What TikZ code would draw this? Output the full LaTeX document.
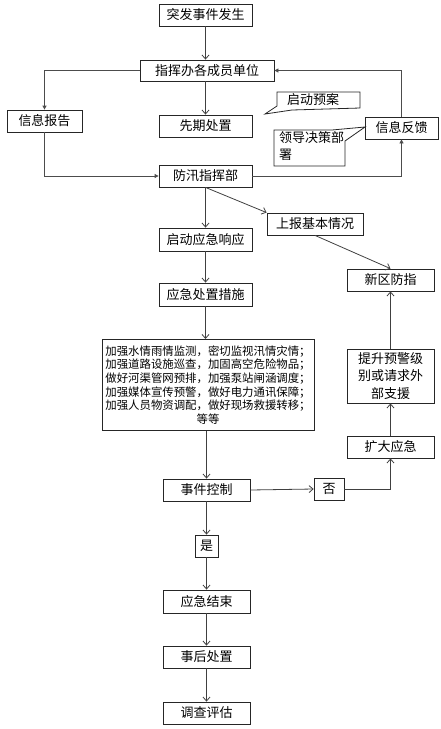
\documentclass[tikz,border=0pt]{standalone}
\usepackage{fontspec}
\setmainfont{Noto Sans CJK SC}
\usetikzlibrary{arrows.meta}
\begin{document}
\begin{tikzpicture}[x=1pt,y=-1pt,
  box/.style={draw=black!85, line width=0.8pt, inner sep=0pt, font=\fontsize{13}{15}\selectfont, align=center},
  arr/.style={draw=black!75, line width=0.8pt, -{Straight Barb[length=4pt,width=7pt]}},
  arrf/.style={draw=black!70, line width=0.8pt, -{Triangle[length=4pt,width=4pt]}},
  ln/.style={draw=black!75, line width=0.8pt}]
\useasboundingbox (0,0) rectangle (441,729);
% nodes
\node[box, minimum width=93pt, minimum height=22pt] (n1) at (205.5,15) {突发事件发生};
\node[box, minimum width=134pt, minimum height=21pt] (n2) at (207,70.5) {指挥办各成员单位};
\node[box, minimum width=75pt, minimum height=22pt] (n3) at (44.5,121) {信息报告};
\node[box, minimum width=93pt, minimum height=22pt] (n4) at (205.5,126) {先期处置};
\node[box, minimum width=73pt, minimum height=22pt] (n5) at (401.5,128) {信息反馈};
\node[box, minimum width=93pt, minimum height=22pt] (n6) at (205.5,176) {防汛指挥部};
\node[box, minimum width=96pt, minimum height=22pt] (n7) at (315,224) {上报基本情况};
\node[box, minimum width=93pt, minimum height=23pt] (n8) at (205.5,239.5) {启动应急响应};
\node[box, minimum width=87pt, minimum height=22pt] (n9) at (390.5,280) {新区防指};
\node[box, minimum width=93pt, minimum height=23pt] (n10) at (205.5,294.5) {应急处置措施};
\node[box, minimum width=212pt, minimum height=91pt, anchor=north, font=\fontsize{11.4}{13.6}\selectfont, inner ysep=2pt] (n11) at (208,339)
  {加强水情雨情监测，密切监视汛情灾情；\\加强道路设施巡查，加固高空危险物品；\\做好河渠管网预排，加强泵站闸涵调度；\\加强媒体宣传预警，做好电力通讯保障；\\加强人员物资调配，做好现场救援转移；\\等等};
\node[box, minimum width=87pt, minimum height=54pt, font=\fontsize{13}{17.5}\selectfont] (n12) at (390.5,376) {提升预警级\\别或请求外\\部支援};
\node[box, minimum width=87pt, minimum height=22pt] (n13) at (390.5,447) {扩大应急};
\node[box, minimum width=87pt, minimum height=22pt] (n14) at (206.5,490) {事件控制};
\node[box, minimum width=30pt, minimum height=22pt] (n15) at (329,489) {否};
\node[box, minimum width=23pt, minimum height=22pt] (n16) at (206.5,546) {是};
\node[box, minimum width=87pt, minimum height=23pt] (n17) at (206.5,601.5) {应急结束};
\node[box, minimum width=87pt, minimum height=22pt] (n18) at (206.5,657) {事后处置};
\node[box, minimum width=87pt, minimum height=22pt] (n19) at (206.5,713) {调查评估};
% callouts
\draw[line width=0.8pt, draw=black!85] (277,92) -- (360,92) -- (360,108) -- (292,110) -- (265,114) -- (277,106) -- cycle;
\node[font=\fontsize{13}{15}\selectfont, inner sep=0pt] (c1) at (313,100) {启动预案};
\draw[line width=0.8pt, draw=black!85] (274,130) -- (332,130) -- (365,127) -- (345,141) -- (345,166) -- (274,166) -- cycle;
\node[font=\fontsize{13}{17}\selectfont, inner sep=0pt, anchor=north west, align=left] (c2) at (279,131) {领导决策部\\署};
% connectors
\draw[arr] (n1.south) -- (n1.south |- n2.north);
\draw[arrf] (n2.west) -| (n3.north);
\draw[arr] (n2.south -| n4.north) -- (n4.north);
\draw[arrf] (n5.north) |- (n2.east);
\draw[arrf] (n3.south) |- (n6.west);
\draw[arrf] (n6.east) -| (n5.south);
\draw[arr] (n6.south) -- (n6.south |- n8.north);
\draw[arr] (n6.south) -- (n7.north west);
\draw[arr] (n7.south) -- (n9.north);
\draw[arr] (n8.south) -- (n10.north);
\draw[arr] (n10.south) -- (n10.south |- n11.north);
\draw[arr] (n11.south -| n14.north) -- (n14.north);
\draw[arr] (n14.east) -- (n15.west);
\draw[ln, -{Straight Barb[length=4pt,width=7pt]}] (n15.east) -| (n13.south);
\draw[arr] (n13.north) -- (n12.south);
\draw[arr] (n12.north) -- (n9.south);
\draw[arr] (n14.south) -- (n16.north);
\draw[arr] (n16.south) -- (n17.north);
\draw[arr] (n17.south) -- (n18.north);
\draw[arr] (n18.south) -- (n19.north);
\end{tikzpicture}
\end{document}
